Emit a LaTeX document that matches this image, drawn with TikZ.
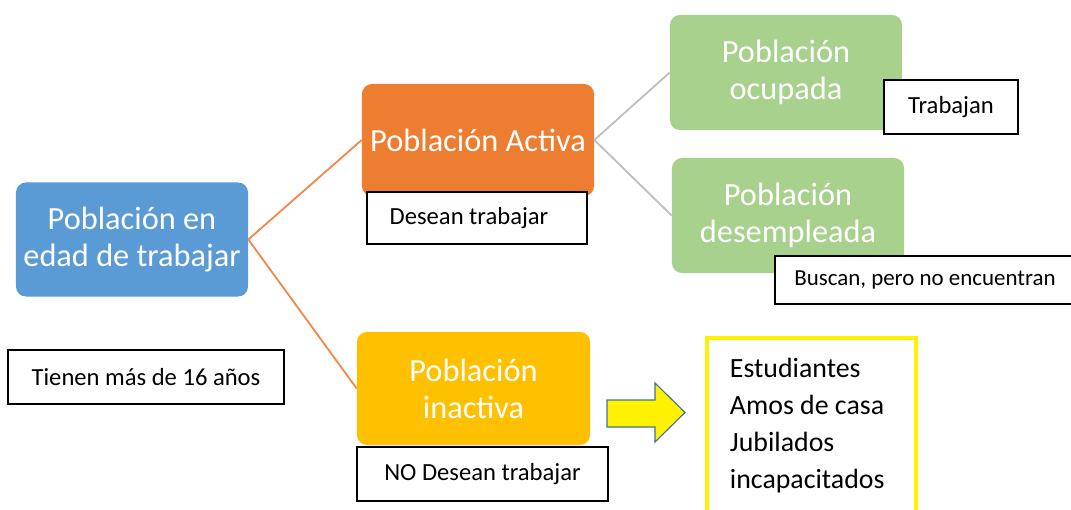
\documentclass[tikz,border=0pt]{standalone}
\usepackage{fontspec}
\setmainfont{Carlito}
\usepackage{tikz}

\definecolor{azul}{HTML}{5B9BD5}
\definecolor{naranja}{HTML}{ED7D31}
\definecolor{naranjaclaro}{HTML}{F0894A}
\definecolor{verde}{HTML}{A9D18E}
\definecolor{oro}{HTML}{FFC000}
\definecolor{gris}{HTML}{BFBFBF}
\definecolor{flecha}{HTML}{41719C}

\begin{document}
\begin{tikzpicture}[x=0.025cm, y=-0.025cm,
		box_style/.style={rounded corners=0.25cm,draw=none,text=white,align=center,
			minimum width=5.8cm,minimum height=2.85cm,inner sep=0pt,
			font=\fontsize{23}{26.3}\selectfont},
		note_style/.style={draw=black,fill=white,line width=0.9pt,inner sep=0pt,
			font=\fontsize{17.5}{21}\selectfont},
		edge_style/.style={draw=naranjaclaro,line width=1.3pt},
		gray_edge/.style={draw=gris,line width=1.3pt}]

		\useasboundingbox (0,0) rectangle (1071,510);

		\node[box_style,fill=azul] (pet) at (132,239.5) {Población en\\edad de trabajar};
		\node[box_style,fill=naranja,minimum height=2.8cm] (activa) at (478,140) {Población Activa};
		\node[box_style,fill=verde,minimum height=2.875cm] (ocupada) at (786,72.5) {Población\\ocupada};
		\node[box_style,fill=verde,minimum height=2.875cm] (desempleada) at (788,215.5) {Población\\desempleada};
		\node[box_style,fill=oro,minimum width=5.825cm,minimum height=2.825cm] (inactiva) at (473.5,388.5) {Población\\inactiva};

		\draw[edge_style] (pet.east) -- (activa.west);
		\draw[edge_style] (pet.east) -- (inactiva.west);
		\draw[gray_edge] (activa.east) -- (ocupada.west);
		\draw[gray_edge] (activa.east) -- (desempleada.west);

		\node[note_style,minimum width=5.5cm,minimum height=1.3cm] (desean) at (477,218) {\hspace*{-0.4cm}Desean trabajar};
		\node[note_style,minimum width=3.35cm,minimum height=1.35cm] (trabajan) at (951,107) {Trabajan};
		\node[note_style,minimum width=7.5cm,minimum height=1.2cm,font=\fontsize{16.3}{20}\selectfont] (buscan) at (925,280) {Buscan, pero no encuentran};
		\node[note_style,minimum width=6.275cm,minimum height=1.35cm] (nodesean) at (482.5,474) {NO Desean trabajar};
		\node[note_style,minimum width=6.9cm,minimum height=1.35cm] (tienen) at (146,377) {Tienen más de 16 años};

		% flecha hacia la lista
		\draw[fill=yellow,draw=flecha,line width=0.8pt,line join=miter]
			(607,400) -- (655,400) -- (655,383) -- (685,412.5) -- (655,442) -- (655,427) -- (607,427) -- cycle;

		\node[draw=yellow,line width=2.8pt,fill=white,minimum width=5.225cm,minimum height=4.4cm,
			inner xsep=0.575cm,text width=4.075cm,align=flush left,
			font=\fontsize{19.8}{26.3}\selectfont] (lista) at (811.5,426)
			{Estudiantes\\Amos de casa\\Jubilados\\incapacitados};

\end{tikzpicture}
\end{document}
